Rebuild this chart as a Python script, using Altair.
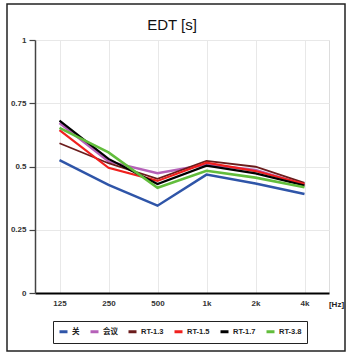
import altair as alt
import pandas as pd

freqs = ["125", "250", "500", "1k", "2k", "4k"]
series_names = ["关", "会议", "RT-1.3", "RT-1.5", "RT-1.7", "RT-3.8"]
guan = [0.525, 0.427, 0.345, 0.468, 0.433, 0.391]
huiyi = [0.672, 0.520, 0.473, 0.508, 0.486, 0.428]
rt13 = [0.592, 0.513, 0.451, 0.522, 0.499, 0.435]
rt15 = [0.644, 0.495, 0.443, 0.515, 0.482, 0.431]
rt17 = [0.681, 0.530, 0.431, 0.503, 0.473, 0.425]
rt38 = [0.653, 0.556, 0.416, 0.483, 0.456, 0.418]
colors = ["#2f55a8", "#b560b8", "#6b1c1c", "#f0201e", "#000000", "#62bd3c"]
widths = [2.5, 2.5, 1.8, 2.2, 2.2, 2.6]
title_text = "EDT [s]"

rows = []
for name, vals, w in zip(series_names, [guan, huiyi, rt13, rt15, rt17, rt38], widths):
    for f, v in zip(freqs, vals):
        rows.append({"freq": f, "edt": v, "series": name, "w": w})
df = pd.DataFrame(rows)

FONT = "Liberation Sans, Noto Sans CJK SC"

lines = alt.Chart(df).mark_line(clip=False).encode(
    x=alt.X("freq:O", sort=freqs,
            scale=alt.Scale(type="point", padding=0.5),
            axis=alt.Axis(title="[Hz]", titleX=301, titleY=11, titleAlign="center",
                          titleBaseline="middle", titleFontSize=8, titleFontWeight="bold",
                          titleColor="#222", titleFont=FONT,
                          labelAngle=0, labelFontSize=8, labelFont=FONT, labelColor="#333",
                          labelFontWeight="bold", labelPadding=6, ticks=False,
                          domainColor="#000", domainWidth=2,
                          grid=True, gridColor="#e8e8e8", gridWidth=1)),
    y=alt.Y("edt:Q", scale=alt.Scale(domain=[0, 1], nice=False, zero=True),
            axis=alt.Axis(title=None, values=[0, 0.25, 0.5, 0.75, 1],
                          labelExpr="datum.value + ''",
                          labelFontSize=8, labelFont=FONT, labelColor="#333",
                          labelFontWeight="bold", labelPadding=3,
                          tickSize=6, tickColor="#444", tickWidth=1.2,
                          domainColor="#444", domainWidth=1.5,
                          grid=True, gridColor="#e8e8e8", gridWidth=1)),
    color=alt.Color("series:N", scale=alt.Scale(domain=series_names, range=colors),
                    legend=alt.Legend(title=None, orient="none", legendX=18, legendY=281,
                                      direction="horizontal", columns=6,
                                      symbolType="stroke", symbolSize=64,
                                      symbolStrokeWidth=3, labelFontSize=7.5,
                                      labelFont=FONT, labelFontWeight="bold",
                                      labelColor="#222", labelOffset=3,
                                      columnPadding=4, padding=5,
                                      strokeColor="#222", fillColor="white")),
    strokeWidth=alt.StrokeWidth("w:Q", scale=None),
    order=alt.Order("series:N"),
)

one = pd.DataFrame({"t": [title_text]})

frame = alt.Chart(one).mark_rect(
    fill="white", fillOpacity=0, stroke="#222", strokeWidth=1.5, clip=False
).encode(
    x=alt.value(-28), x2=alt.value(310), y=alt.value(-36), y2=alt.value(311)
)

title = alt.Chart(one).mark_text(
    font=FONT, fontSize=15, color="#111", align="center", baseline="middle", clip=False
).encode(text="t:N", x=alt.value(137), y=alt.value(-15))

chart = alt.layer(frame, lines, title).properties(
    width=294, height=253,
    autosize=alt.AutoSizeParams(type="none"),
    padding={"left": 35, "top": 40, "right": 23, "bottom": 64},
).configure_view(stroke="#777", strokeWidth=1.5).configure(background="white")

chart.save("out.html", embed_options={"renderer": "svg", "actions": False})
